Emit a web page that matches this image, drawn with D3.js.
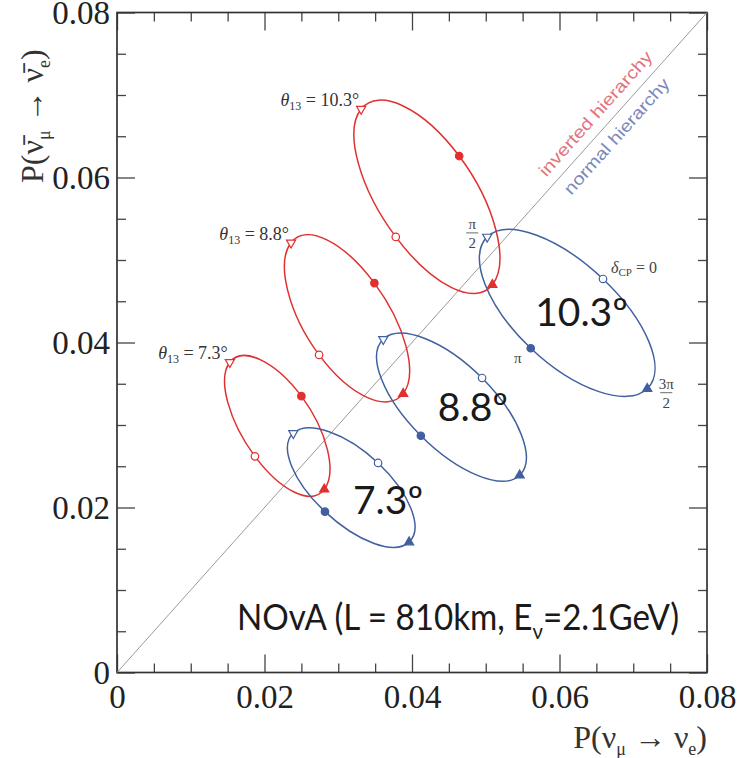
<!DOCTYPE html>
<html>
<head>
<meta charset="utf-8">
<script src="https://cdn.jsdelivr.net/npm/d3@7"></script>
<style>
  html, body { margin: 0; padding: 0; background: #fff; }
  svg { display: block; }
</style>
</head>
<body>
<svg id="chart" width="751" height="758"></svg>
<script>
// delta_CP at the four markers, in order round each ellipse
const deltaLabels = ['0', 'π/2', 'π', '3π/2']
const theta13 = ['7.3', '8.8', '10.3']

// normal hierarchy (blue), one row per theta13, one value per delta
const normalX = [
  [0.0354, 0.0239, 0.0282, 0.0396],
  [0.0495, 0.0361, 0.0412, 0.0546],
  [0.0659, 0.0502, 0.0561, 0.0719],
]
const normalY = [
  [0.0254, 0.0290, 0.0195, 0.0158],
  [0.0357, 0.0404, 0.0287, 0.0239],
  [0.0477, 0.0528, 0.0393, 0.0344],
]

// inverted hierarchy (red)
const invertedX = [
  [0.0187, 0.0153, 0.0250, 0.0281],
  [0.0274, 0.0236, 0.0349, 0.0388],
  [0.0378, 0.0331, 0.0464, 0.0509],
]
const invertedY = [
  [0.0262, 0.0376, 0.0335, 0.0222],
  [0.0385, 0.0521, 0.0472, 0.0338],
  [0.0528, 0.0683, 0.0626, 0.0470],
]

const tickValues = [0, 0.02, 0.04, 0.06, 0.08]
const tickLabels = ['0', '0.02', '0.04', '0.06', '0.08']

const RED = '#e0302f'
const BLUE = '#41609f'
const serif = '"Liberation Serif", "DejaVu Serif", serif'
const sans = 'Lato, "Open Sans", sans-serif'

const svg = d3.select('#chart')
svg.append('rect').attr('width', 751).attr('height', 758).attr('fill', '#fff')

const x = d3.scaleLinear().domain([0, 0.08]).range([117, 707])
const y = d3.scaleLinear().domain([0, 0.08]).range([672.5, 12.5])
const minor = d3.range(0.005, 0.08, 0.005).filter(v => Math.abs(v / 0.02 - Math.round(v / 0.02)) > 1e-6)

// axes, ticks pointing inward on all four sides
function axis(gen, tr) {
  const g = svg.append('g').attr('transform', tr)
  g.call(gen)
  g.select('.domain').remove()
  g.selectAll('line').attr('stroke', '#444').attr('stroke-width', 1.3)
  g.selectAll('text').attr('font-family', serif).attr('font-size', 33).attr('fill', '#222')
  return g
}
const fmt = (d, i) => tickLabels[i]
axis(d3.axisBottom(x).tickValues(tickValues).tickFormat(fmt).tickSize(-18).tickPadding(12), `translate(0,${y(0)})`)
axis(d3.axisLeft(y).tickValues(tickValues).tickFormat(fmt).tickSize(-18).tickPadding(7), `translate(${x(0)},0)`)
axis(d3.axisTop(x).tickValues(tickValues).tickFormat('').tickSize(-18), `translate(0,${y(0.08)})`)
axis(d3.axisRight(y).tickValues(tickValues).tickFormat('').tickSize(-18), `translate(${x(0.08)},0)`)
axis(d3.axisBottom(x).tickValues(minor).tickFormat('').tickSize(-9), `translate(0,${y(0)})`)
axis(d3.axisLeft(y).tickValues(minor).tickFormat('').tickSize(-9), `translate(${x(0)},0)`)
axis(d3.axisTop(x).tickValues(minor).tickFormat('').tickSize(-9), `translate(0,${y(0.08)})`)
axis(d3.axisRight(y).tickValues(minor).tickFormat('').tickSize(-9), `translate(${x(0.08)},0)`)

svg.append('rect')
  .attr('x', x(0)).attr('y', y(0.08))
  .attr('width', x(0.08) - x(0)).attr('height', y(0) - y(0.08))
  .attr('fill', 'none').attr('stroke', '#333').attr('stroke-width', 1.7)

// diagonal
svg.append('line')
  .attr('x1', x(0)).attr('y1', y(0)).attr('x2', x(0.08)).attr('y2', y(0.08))
  .attr('stroke', '#9a9a9a').attr('stroke-width', 1)

const diagAngle = Math.atan2(y(0.08) - y(0), x(0.08) - x(0)) * 180 / Math.PI
svg.append('text')
  .attr('transform', `translate(${x(0.0582)},${y(0.0600)}) rotate(${diagAngle})`)
  .attr('font-family', '"Liberation Sans", Arial, sans-serif').attr('font-size', 17)
  .attr('fill', '#e4737d').attr('textLength', 161).attr('lengthAdjust', 'spacingAndGlyphs')
  .text('inverted hierarchy')
svg.append('text')
  .attr('transform', `translate(${x(0.0616)},${y(0.0578)}) rotate(${diagAngle})`)
  .attr('font-family', '"Liberation Sans", Arial, sans-serif').attr('font-size', 17)
  .attr('fill', '#7c88bb').attr('textLength', 149).attr('lengthAdjust', 'spacingAndGlyphs')
  .text('normal hierarchy')

// ellipses: 4-arc bezier through the delta = 0, pi/2, pi, 3pi/2 points
const ellipse = d3.line()
  .x(d => x(d[0])).y(d => y(d[1]))
  .curve(d3.curveCardinalClosed.tension(-0.657))

const series = [
  { color: RED, xs: invertedX, ys: invertedY },
  { color: BLUE, xs: normalX, ys: normalY },
]
const markers = [
  { type: d3.symbolCircle, filled: false, rot: 0 },
  { type: d3.symbolTriangle, filled: false, rot: 180 },
  { type: d3.symbolCircle, filled: true, rot: 0 },
  { type: d3.symbolTriangle, filled: true, rot: 0 },
]

for (const s of series) {
  s.xs.forEach((row, i) => {
    const pts = row.map((v, j) => [v, s.ys[i][j]])
    svg.append('path').attr('d', ellipse(pts))
      .attr('fill', 'none').attr('stroke', s.color).attr('stroke-width', 1.5)
    pts.forEach((p, j) => {
      const m = markers[j]
      svg.append('path')
        .attr('d', d3.symbol().type(m.type).size(m.type === d3.symbolCircle ? 44 : 36)())
        .attr('transform', `translate(${x(p[0])},${y(p[1])}) rotate(${m.rot})`)
        .attr('fill', m.filled ? s.color : '#fff')
        .attr('stroke', s.color).attr('stroke-width', 1.2)
    })
  })
}

// theta13 labels next to the red pi/2 points
theta13.forEach((t, i) => {
  const t0 = svg.append('text')
    .attr('x', x(invertedX[i][1]) - 2).attr('y', y(invertedY[i][1]) - 3)
    .attr('text-anchor', 'end').attr('font-family', serif).attr('font-size', 18).attr('fill', '#333')
  t0.append('tspan').attr('font-style', 'italic').text('θ')
  t0.append('tspan').attr('font-size', 12).attr('dy', 4).text('13')
  t0.append('tspan').attr('dy', -4).text(` = ${t}°`)
})

// delta_CP labels on the 10.3 normal ellipse
const bx = normalX[2], by = normalY[2]
const small = svg.append('g').attr('font-family', serif).attr('fill', '#444').attr('font-size', 16)
const d0 = small.append('text').attr('x', x(bx[0]) + 8).attr('y', y(by[0]) - 6)
d0.append('tspan').attr('font-style', 'italic').text('δ')
d0.append('tspan').attr('font-size', 11).attr('dy', 3).text('CP')
d0.append('tspan').attr('dy', -3).text(' = ' + deltaLabels[0])

function fraction(cx, cy, top) {
  small.append('text').attr('x', cx).attr('y', cy - 4).attr('text-anchor', 'middle').attr('font-size', 15).text(top)
  small.append('line').attr('x1', cx - 6).attr('x2', cx + 6).attr('y1', cy).attr('y2', cy)
    .attr('stroke', '#444').attr('stroke-width', 0.8)
  small.append('text').attr('x', cx).attr('y', cy + 15).attr('text-anchor', 'middle').attr('font-size', 15).text('2')
}
fraction(x(bx[1]) - 15, y(by[1]) - 4, 'π')
small.append('text').attr('x', x(bx[2]) - 13).attr('y', y(by[2]) + 15)
  .attr('text-anchor', 'middle').attr('font-size', 15).text(deltaLabels[2])
fraction(x(bx[3]) + 19, y(by[3]) + 4, '3π')

// big theta13 labels inside the blue ellipses
const bigAt = [[0.0320, 0.0192], [0.0435, 0.0305], [0.0567, 0.0420]]
theta13.forEach((t, i) => {
  svg.append('text')
    .attr('x', x(bigAt[i][0])).attr('y', y(bigAt[i][1]))
    .attr('font-family', sans).attr('font-size', 39).attr('fill', '#1a1a1a')
    .text(t + 'º')
})

// experiment label
const nova = svg.append('text')
  .attr('x', 237).attr('y', 630)
  .attr('font-family', sans).attr('font-size', 36).attr('fill', '#1a1a1a')
  .attr('textLength', 442).attr('lengthAdjust', 'spacingAndGlyphs')
nova.append('tspan').text('NOvA (L = 810km, E')
nova.append('tspan').attr('font-size', 22).attr('dy', 9).text('ν')
nova.append('tspan').attr('dy', -9).text('=2.1GeV)')

// axis titles
const xt = svg.append('text')
  .attr('x', 707).attr('y', 748).attr('text-anchor', 'end')
  .attr('font-family', serif).attr('font-size', 32).attr('fill', '#333')
xt.append('tspan').text('P(ν')
xt.append('tspan').attr('font-size', 18).attr('dy', 7).text('μ')
xt.append('tspan').attr('dy', -7).text(' → ν')
xt.append('tspan').attr('font-size', 18).attr('dy', 7).text('e')
xt.append('tspan').attr('dy', -7).text(')')

const yt = svg.append('text')
  .attr('transform', 'translate(43,183) rotate(-90)')
  .attr('font-family', serif).attr('font-size', 32).attr('fill', '#333')
yt.append('tspan').text('P(ν\u0304')
yt.append('tspan').attr('font-size', 18).attr('dy', 7).text('μ')
yt.append('tspan').attr('dy', -7).text(' → ν\u0304')
yt.append('tspan').attr('font-size', 18).attr('dy', 7).text('e')
yt.append('tspan').attr('dy', -7).text(')')
</script>
</body>
</html>
